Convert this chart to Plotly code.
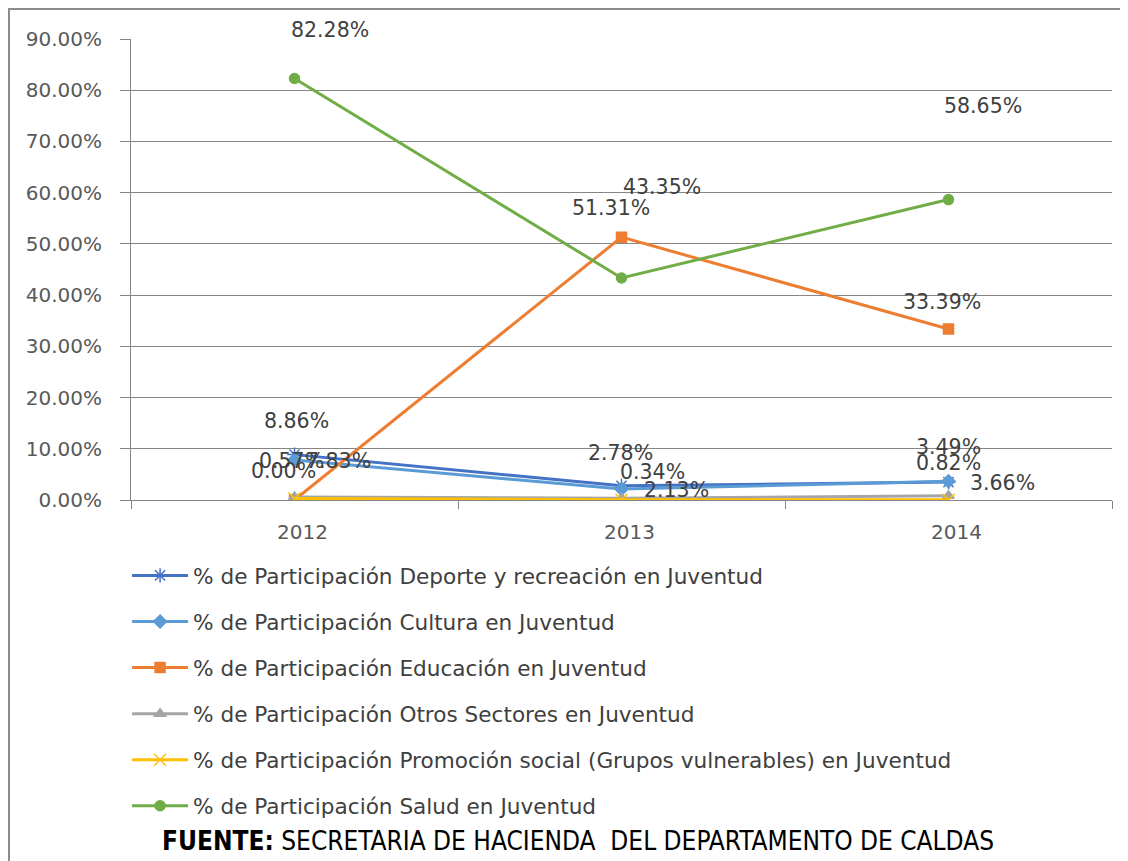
import plotly.graph_objects as go

years = ["2012", "2013", "2014"]
series_names = [
    "% de Participación Deporte y recreación en Juventud",
    "% de Participación Cultura en Juventud",
    "% de Participación Educación en Juventud",
    "% de Participación Otros Sectores en Juventud",
    "% de Participación Promoción social (Grupos vulnerables) en Juventud",
    "% de Participación Salud en Juventud",
]
deporte = [0.0886, 0.0278, 0.0349]
cultura = [0.0783, 0.0213, 0.0366]
educacion = [0.0000, 0.5131, 0.3339]
otros = [0.0057, 0.0034, 0.0082]
promocion = [0.0030, 0.0005, 0.0005]
salud = [0.8228, 0.4335, 0.5865]
y_ticks = [0, 0.1, 0.2, 0.3, 0.4, 0.5, 0.6, 0.7, 0.8, 0.9]

all_values = [deporte, cultura, educacion, otros, promocion, salud]
colors = ["#4472C4", "#5B9BD5", "#ED7D31", "#A5A5A5", "#FFC000", "#70AD47"]
symbols = ["asterisk-open", "diamond", "square", "triangle-up", "x-thin-open", "circle"]
msizes = [12, 10, 10, 10, 12, 10]

# label offsets (pixels) per series per year, None = no label
label_shifts = [
    [(2, 34), (-1, 33), (0, 35)],
    [(44, -1), (55, -1), (54, -2)],
    [(-11, 29), (-11, 29), (-7, 27)],
    [(-3, 36), (31, 26), (0, 33)],
    [None, None, None],
    [(35, 49), (40, 91), (34, 94)],
]

FONT = "DejaVu Sans"
fig = go.Figure()
for i, (name, vals) in enumerate(zip(series_names, all_values)):
    fig.add_trace(go.Scatter(
        x=years, y=vals, name=name, mode="lines+markers",
        line=dict(color=colors[i], width=3),
        marker=dict(symbol=symbols[i], size=msizes[i], color=colors[i],
                    line=dict(color=colors[i], width=1.5)),
        legendgroup=str(i),
    ))

annotations = []
for i, vals in enumerate(all_values):
    for j, v in enumerate(vals):
        sh = label_shifts[i][j]
        if sh is None:
            continue
        annotations.append(dict(
            x=j, y=v, xref="x", yref="y", text=f"{v*100:.2f}%",
            showarrow=False, xshift=sh[0], yshift=sh[1],
            font=dict(family=FONT, size=20.5, color="#404040"),
        ))

annotations.append(dict(
    x=0.4557, y=-0.777, xref="paper", yref="paper",
    text="<b>FUENTE:</b> SECRETARIA DE HACIENDA&nbsp; DEL DEPARTAMENTO DE CALDAS",
    showarrow=False,
    font=dict(family="DejaVu Sans Condensed, Roboto, sans-serif", size=26, color="#000000"),
))

L, T, PW, PH = 123, 31, 981, 461
fig.update_layout(
    width=1128, height=861,
    margin=dict(l=L, r=1128 - L - PW, t=T, b=861 - T - PH),
    paper_bgcolor="white", plot_bgcolor="white",
    font=dict(family=FONT, size=20, color="#595959"),
    showlegend=True,
    legend=dict(
        x=-0.004, xanchor="left", y=-0.119, yanchor="top",
        orientation="v", tracegroupgap=15,
        font=dict(family=FONT, size=21.6, color="#404040"),
        itemwidth=56,
    ),
    annotations=annotations,
    shapes=[dict(type="rect", xref="paper", yref="paper",
                 x0=(1 - L) / PW, x1=(1160 - L) / PW,
                 y0=-(900 - T - PH) / PH, y1=1 + (T - 1) / PH,
                 line=dict(color="#8C8C8C", width=2), layer="below")],
)
fig.update_xaxes(
    type="category", range=[-0.5, 2.5], tickson="boundaries",
    ticks="outside", ticklen=8, tickcolor="#868686",
    showline=True, linecolor="#868686", linewidth=1,
    showgrid=False, ticklabelstandoff=14, ticklabelshift=8,
    tickfont=dict(family=FONT, size=20, color="#595959"),
)
fig.update_yaxes(
    range=[0, 0.9], tickvals=y_ticks, tickformat=".2%",
    ticks="outside", ticklen=10, tickcolor="#868686",
    showline=True, linecolor="#868686", linewidth=1,
    showgrid=True, gridcolor="#868686", gridwidth=1,
    zeroline=False, ticklabelstandoff=14,
    tickfont=dict(family=FONT, size=20, color="#595959"),
)

fig.write_html("out.html")
